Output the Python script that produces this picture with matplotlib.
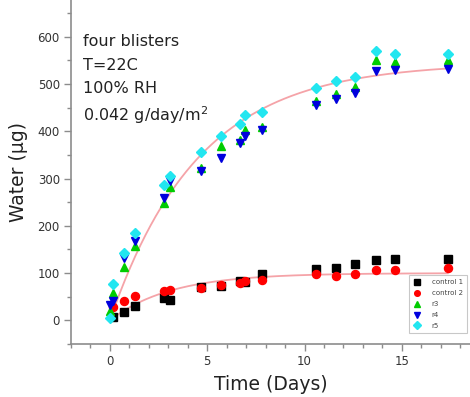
import matplotlib
matplotlib.use("Agg")
import matplotlib.pyplot as plt
import numpy as np
from matplotlib.ticker import MultipleLocator

# sampling times (days)
t_ctrl = [0.15, 0.75, 1.3, 2.8, 3.1, 4.7, 5.7, 6.7, 6.95, 7.8, 10.6, 11.6, 12.6, 13.65, 14.65, 17.35]
t_blis = [0.0, 0.15, 0.75, 1.3, 2.8, 3.1, 4.7, 5.7, 6.7, 6.95, 7.8, 10.6, 11.6, 12.6, 13.65, 14.65, 17.35]

# water uptake (ug)
control_1 = [8, 18, 30, 47, 43, 71, 73, 83, 81, 98, 109, 110, 119, 128, 130, 130]
control_2 = [28, 41, 51, 62, 64, 69, 74, 79, 83, 85, 98, 94, 98, 106, 106, 110]
r3 = [20, 58, 113, 157, 248, 282, 323, 370, 382, 402, 410, 464, 479, 493, 551, 547, 552]
r4 = [32, 42, 131, 169, 259, 294, 317, 344, 376, 390, 402, 455, 468, 482, 527, 530, 532]
r5 = [5, 78, 143, 184, 287, 305, 356, 390, 415, 434, 440, 491, 506, 516, 570, 564, 564]

# saturation fits y = A * (1 - exp(-k t)), parameters
blis_fit_amp, blis_fit_rate = 545, 0.22
ctrl_fit_amp, ctrl_fit_rate = 100, 0.32

annotation = ["four blisters", "T=22C", "100% RH", "0.042 g/day/m$^2$"]

fig = plt.figure(figsize=(4.7, 3.97), dpi=100)
ax = fig.add_axes([0.151, 0.1335, 0.849, 0.8665])

tt = np.linspace(0.0, max(t_blis), 200)
for amp, rate in [(blis_fit_amp, blis_fit_rate), (ctrl_fit_amp, ctrl_fit_rate)]:
    ax.plot(tt, amp * (1 - np.exp(-rate * tt)), color="#f5a3a8", lw=1.3, zorder=1)

ms = 5.8
ax.plot(t_ctrl, control_1, "s", color="black", ms=ms - 0.6, label="control 1", zorder=3)
ax.plot(t_ctrl, control_2, "o", color="red", ms=ms, label="control 2", zorder=3)
ax.plot(t_blis, r3, "^", color="#00cc00", ms=ms, label="r3", zorder=3)
ax.plot(t_blis, r4, "v", color="#0000dd", ms=ms, label="r4", zorder=3)
ax.plot(t_blis, r5, "D", color="#22e6f0", ms=ms - 0.6, label="r5", zorder=3)

ax.set_xlim(-2, 18.5)
ax.set_ylim(-50, 678)
ax.xaxis.set_major_locator(MultipleLocator(5))
ax.xaxis.set_minor_locator(MultipleLocator(1))
ax.yaxis.set_major_locator(MultipleLocator(100))
ax.yaxis.set_minor_locator(MultipleLocator(50))

for side in ["top", "right"]:
    ax.spines[side].set_visible(False)
for side in ["left", "bottom"]:
    ax.spines[side].set_color("#8c8c8c")
    ax.spines[side].set_linewidth(1.2)
ax.tick_params(which="major", direction="out", length=5, width=1, color="#8c8c8c",
               labelsize=8.5, labelcolor="#333333", pad=3)
ax.tick_params(which="minor", direction="out", length=3, width=1, color="#8c8c8c")

ax.set_xlabel("Time (Days)", fontsize=13.5, color="#222222", labelpad=5)
ax.set_ylabel("Water (\u00b5g)", fontsize=13.5, color="#222222", labelpad=7)

for i, line in enumerate(annotation):
    ax.text(0.030, 0.90 - i * 0.0677, line, transform=ax.transAxes,
            fontsize=11.5, color="#222222", va="top", ha="left")

leg = ax.legend(loc="lower right", bbox_to_anchor=(0.9925, 0.032), borderaxespad=0,
                fontsize=5, frameon=True, fancybox=False, edgecolor="#bbbbbb",
                markerscale=0.7, handlelength=1.2, labelspacing=0.7,
                borderpad=0.6, handletextpad=1.5)
leg.get_frame().set_linewidth(0.8)
for txt in leg.get_texts():
    txt.set_color("#444444")

fig.savefig("out.png", dpi=100)
